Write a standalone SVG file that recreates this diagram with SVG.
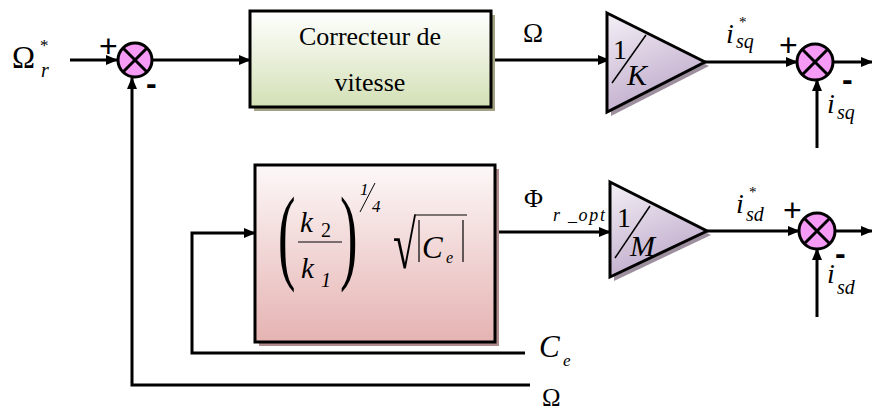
<svg xmlns="http://www.w3.org/2000/svg" width="872" height="412" viewBox="0 0 872 412">
<defs>
<linearGradient id="gGreen" x1="0" y1="0" x2="0" y2="1"><stop offset="0" stop-color="#ffffff"/><stop offset="1" stop-color="#d3e0b5"/></linearGradient>
<linearGradient id="gPink" x1="0" y1="0" x2="0" y2="1"><stop offset="0" stop-color="#fdf8f8"/><stop offset="1" stop-color="#e5b3b2"/></linearGradient>
<linearGradient id="gLav" x1="0.3" y1="0" x2="0.7" y2="1"><stop offset="0" stop-color="#efe9f2"/><stop offset="1" stop-color="#b9a3c6"/></linearGradient>
<marker id="arr" viewBox="0 0 12 10" refX="11" refY="5" markerWidth="12" markerHeight="10" markerUnits="userSpaceOnUse" orient="auto"><path d="M0,0 L12,5 L0,10 z" fill="#000"/></marker>
</defs>
<style>
.w{fill:none;stroke:#000;stroke-width:3}
.a{marker-end:url(#arr)}
.box{stroke:#000;stroke-width:3}
.sum{fill:#f59af5;stroke:#000;stroke-width:3}
.x{stroke:#000;stroke-width:3}
.t{font-family:"Liberation Serif","Times New Roman",serif;fill:#000}
.i{font-style:italic}
.pl{font-family:"Liberation Sans",Arial,sans-serif;fill:#000;font-size:32px}
.mi{font-family:"Liberation Sans",Arial,sans-serif;fill:#000;font-size:32px;font-weight:bold}
</style>

<g id="connectors">
<line class="w a" x1="70" y1="60" x2="117" y2="60"/>
<line class="w a" x1="153" y1="60" x2="250" y2="60"/>
<line class="w a" x1="491" y1="60" x2="609" y2="60"/>
<line class="w a" x1="705" y1="62" x2="797" y2="62"/>
<line class="w a" x1="833" y1="62" x2="872" y2="62"/>
<line class="w a" x1="817" y1="148" x2="817" y2="80"/>
<polyline class="w a" points="530,385 132,385 132,78"/>
<polyline class="w a" points="525,353 192,353 192,233 255,233"/>
<line class="w a" x1="495" y1="232" x2="610" y2="232"/>
<line class="w a" x1="707" y1="231" x2="799" y2="231"/>
<line class="w a" x1="835" y1="231" x2="872" y2="231"/>
<line class="w a" x1="817" y1="317" x2="817" y2="249"/>
</g>

<g id="in_omega_ref">
<text class="t" x="12" y="68" font-size="31">Ω</text>
<text class="t" x="40" y="51" font-size="17">*</text>
<text class="t i" x="41" y="77" font-size="20">r</text>
</g>

<g id="sum1">
<circle class="sum" cx="135" cy="60" r="17"/>
<line class="x" x1="123" y1="48" x2="147" y2="72"/>
<line class="x" x1="147" y1="48" x2="123" y2="72"/>
<text class="pl" x="99" y="57">+</text>
<text class="mi" x="146" y="94">-</text>
</g>

<g id="correcteur">
<rect x="254" y="15" width="241" height="96" fill="#a3a384"/>
<rect class="box" x="250" y="11" width="241" height="96" fill="url(#gGreen)"/>
<text class="t" x="370" y="45" font-size="26" text-anchor="middle">Correcteur de</text>
<text class="t" x="370" y="91" font-size="26" text-anchor="middle">vitesse</text>
</g>

<g id="label_omega">
<text class="t" x="523" y="42" font-size="27">Ω</text>
</g>

<g id="gainK">
<polygon points="611,17 709,66 611,116" fill="#9e8f9e"/>
<polygon class="box" points="607,13 705,62 607,112" fill="url(#gLav)"/>
<text class="t" x="613" y="59" font-size="28">1</text>
<line x1="612" y1="83" x2="646" y2="35" stroke="#000" stroke-width="1.5"/>
<text class="t i" x="627" y="85" font-size="30">K</text>
</g>

<g id="label_isq_ref">
<text class="t i" x="726" y="43" font-size="28">i</text>
<text class="t" x="739" y="27" font-size="15">*</text>
<text class="t i" x="736" y="48" font-size="20">sq</text>
</g>

<g id="sum2">
<circle class="sum" cx="815" cy="62" r="18"/>
<line class="x" x1="803" y1="50" x2="827" y2="74"/>
<line class="x" x1="827" y1="50" x2="803" y2="74"/>
<text class="pl" x="779" y="56">+</text>
<text class="mi" x="842" y="90">-</text>
</g>

<g id="label_isq">
<text class="t i" x="827" y="113" font-size="28">i</text>
<text class="t i" x="837" y="119" font-size="20">sq</text>
</g>

<g id="flux_block">
<rect x="259" y="169" width="240" height="177" fill="#b08c8c"/>
<rect class="box" x="255" y="165" width="240" height="177" fill="url(#gPink)"/>
<text class="t" x="0" y="0" font-size="105" transform="translate(278,270) scale(0.5,1)">(</text>
<text class="t" x="0" y="0" font-size="105" transform="translate(340,270) scale(0.5,1)">)</text>
<text class="t i" x="300" y="232" font-size="29">k</text>
<text class="t" x="321" y="237" font-size="20">2</text>
<line x1="298" y1="242" x2="342" y2="242" stroke="#000" stroke-width="1.2"/>
<text class="t i" x="301" y="278" font-size="29">k</text>
<text class="t i" x="321" y="287" font-size="20">1</text>
<text class="t i" x="360" y="195" font-size="17">1</text>
<line x1="360" y1="212" x2="375" y2="183" stroke="#000" stroke-width="1"/>
<text class="t i" x="372" y="212" font-size="17">4</text>
<text class="t" x="0" y="0" font-size="68" transform="translate(393,268) scale(0.62,1)">√</text>
<line x1="416" y1="215" x2="467" y2="215" stroke="#000" stroke-width="1.2"/>
<line x1="419" y1="220" x2="419" y2="262" stroke="#000" stroke-width="1.2"/>
<text class="t i" x="422" y="258" font-size="31">C</text>
<text class="t i" x="446" y="263" font-size="16">e</text>
<line x1="463" y1="220" x2="463" y2="262" stroke="#000" stroke-width="1.2"/>
</g>

<g id="label_phi">
<text class="t" x="524" y="207" font-size="26">Φ</text>
<text class="t i" x="553" y="221" font-size="18" textLength="52">r _opt</text>
</g>

<g id="gainM">
<polygon points="614,186 711,235 614,281" fill="#9e8f9e"/>
<polygon class="box" points="610,182 707,231 610,277" fill="url(#gLav)"/>
<text class="t" x="617" y="227" font-size="28">1</text>
<line x1="615" y1="258" x2="650" y2="206" stroke="#000" stroke-width="1.5"/>
<text class="t i" x="630" y="256" font-size="30">M</text>
</g>

<g id="label_isd_ref">
<text class="t i" x="736" y="213" font-size="28">i</text>
<text class="t" x="749" y="197" font-size="15">*</text>
<text class="t i" x="746" y="221" font-size="20">sd</text>
</g>

<g id="sum3">
<circle class="sum" cx="817" cy="231" r="18"/>
<line class="x" x1="805" y1="219" x2="829" y2="243"/>
<line class="x" x1="829" y1="219" x2="805" y2="243"/>
<text class="pl" x="783" y="221">+</text>
<text class="mi" x="835" y="264">-</text>
</g>

<g id="label_isd">
<text class="t i" x="827" y="283" font-size="28">i</text>
<text class="t i" x="837" y="294" font-size="20">sd</text>
</g>

<g id="label_ce">
<text class="t i" x="539" y="357" font-size="31">C</text>
<text class="t i" x="563" y="366" font-size="17">e</text>
</g>

<g id="label_omega_fb">
<text class="t" x="542" y="406" font-size="25">Ω</text>
</g>
</svg>
